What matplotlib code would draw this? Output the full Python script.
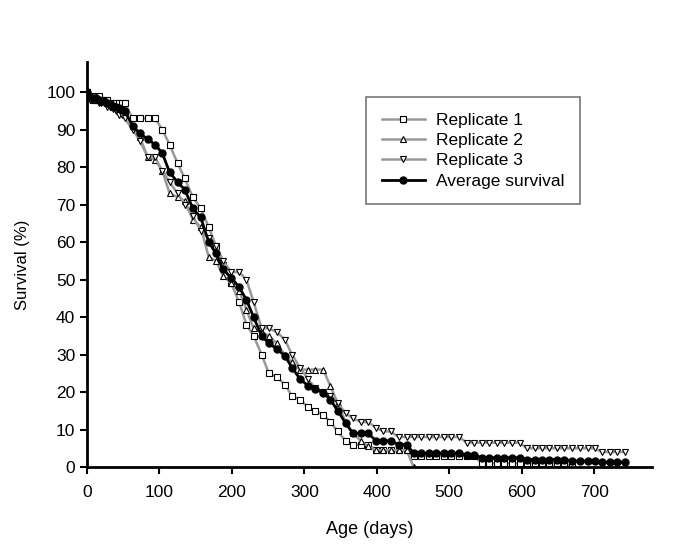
import numpy as np
from matplotlib import pyplot as plt

plt.rcParams['font.family'] = ['Liberation Sans', 'DejaVu Sans']

# census days (shared by all series)
days = [0, 4, 8, 12, 16, 20, 24, 28, 32, 36, 40, 44, 48, 52,
        63, 73, 84, 94, 104, 114, 125, 135, 146, 157, 168, 178, 188, 199,
        210, 220, 230, 241, 251, 262, 273, 283, 294, 305, 315, 326, 336, 346,
        357, 367, 378, 388, 399, 409, 419, 430, 441, 451, 461, 472, 482, 493,
        503, 514, 524, 534, 545, 555, 566, 576, 587, 597, 607, 618, 628, 638,
        649, 659, 670, 680, 691, 701, 711, 722, 732, 743]

rep1 = [100, 99, 99, 98, 99, 98, 98, 98, 97, 97, 97, 97, 97, 97,
        93, 93, 93, 93, 90, 86, 81, 77, 72, 69, 64, 59, 54, 49,
        44, 38, 35, 30, 25, 24, 22, 19, 18, 16, 15, 14, 12, 9.5,
        7, 6, 6, 6, 4.5, 4.5, 4.5, 4.5, 4.5, 3, 3, 3, 3, 3,
        3, 3, 3, 3, 1, 1, 1, 1, 1, 1, 1, 1, 1, 1,
        1, 1, 0]

rep2 = [100, 99, 98, 99, 98, 98, 98, 97, 97, 96, 96, 96, 95, 95,
        91, 88, 82.6, 82, 79, 73, 72, 71, 66, 64, 56, 55, 51, 49,
        47, 42, 37, 36, 35, 33, 30, 28, 26, 26, 26, 26, 21.6, 17,
        12, 9, 7, 5.5, 4.5, 4.5, 4.5, 4.5, 4.5, 0]

rep3 = [100, 98, 98, 98, 97, 97, 97, 96, 96, 95.5, 95, 94, 94, 93,
        90, 87, 82.6, 82.6, 79, 76, 73, 70, 67, 63, 61, 59, 55, 52,
        52, 50, 44, 37, 37, 36, 34, 30, 26.5, 23.5, 21, 20, 19, 17,
        14.4, 13, 12, 12, 10.5, 9.5, 9.5, 8, 8, 8, 8, 8, 8, 8,
        8, 8, 6.5, 6.5, 6.5, 6.5, 6.5, 6.5, 6.5, 6.5, 5, 5, 5, 5,
        5, 5, 5, 5, 5, 5, 4, 4, 4, 4]

avg = [100, 98.7, 98.3, 98.3, 98, 97.7, 97.7, 97, 96.7, 96.2, 96, 95.7, 95.3, 95,
       91, 89, 87.4, 86, 83.7, 78.6, 76, 74, 69, 66.6, 60, 57, 52.7, 50.5,
       48, 44.6, 40, 35, 33, 31.5, 29.7, 26.5, 23.5, 21.7, 20.8, 19.8, 18, 15,
       11.7, 9, 9, 9, 7, 7, 7, 6, 6, 3.7, 3.7, 3.7, 3.7, 3.7,
       3.7, 3.7, 3.2, 3.2, 2.5, 2.5, 2.5, 2.5, 2.5, 2.5, 2, 2, 2, 2,
       2, 2, 1.6, 1.6, 1.6, 1.6, 1.3, 1.3, 1.3, 1.3]

fig = plt.figure(figsize=(6.85, 5.45), dpi=100)
ax = fig.add_axes([0.127, 0.143, 0.825, 0.743])

gray = '#999999'
mk = dict(markerfacecolor='white', markeredgecolor='black', markeredgewidth=0.8, markersize=4.5)
ax.plot(days[:len(rep1)], rep1, color=gray, lw=1.8, marker='s', label='Replicate 1', **mk)
ax.plot(days[:len(rep2)], rep2, color=gray, lw=1.8, marker='^', label='Replicate 2', **mk)
ax.plot(days[:len(rep3)], rep3, color=gray, lw=1.8, marker='v', label='Replicate 3', **mk)
ax.plot(days[:len(avg)], avg, color='black', lw=2, marker='o', markersize=5,
        label='Average survival')

ax.set_xlim(0, 780)
ax.set_ylim(0, 108)
ax.set_xticks(np.arange(0, 701, 100))
ax.set_yticks(np.arange(0, 101, 10))

for s in ['top', 'right']:
    ax.spines[s].set_visible(False)
for s in ['left', 'bottom']:
    ax.spines[s].set_linewidth(2)
ax.tick_params(direction='out', length=5, width=1.5, labelsize=12.5, colors='black')
ax.tick_params(axis='x', pad=8)

ax.set_xlabel('Age (days)', fontsize=13, labelpad=15)
ax.set_ylabel('Survival (%)', fontsize=12, labelpad=12)

leg = ax.legend(loc='upper left', bbox_to_anchor=(0.494, 0.914), fontsize=12.5,
                frameon=True, fancybox=False, edgecolor='#555555',
                handlelength=2.5, handletextpad=0.6, borderpad=0.9,
                borderaxespad=0, labelspacing=0.3)
leg.get_frame().set_linewidth(1.2)

fig.savefig('out.png', dpi=100)
